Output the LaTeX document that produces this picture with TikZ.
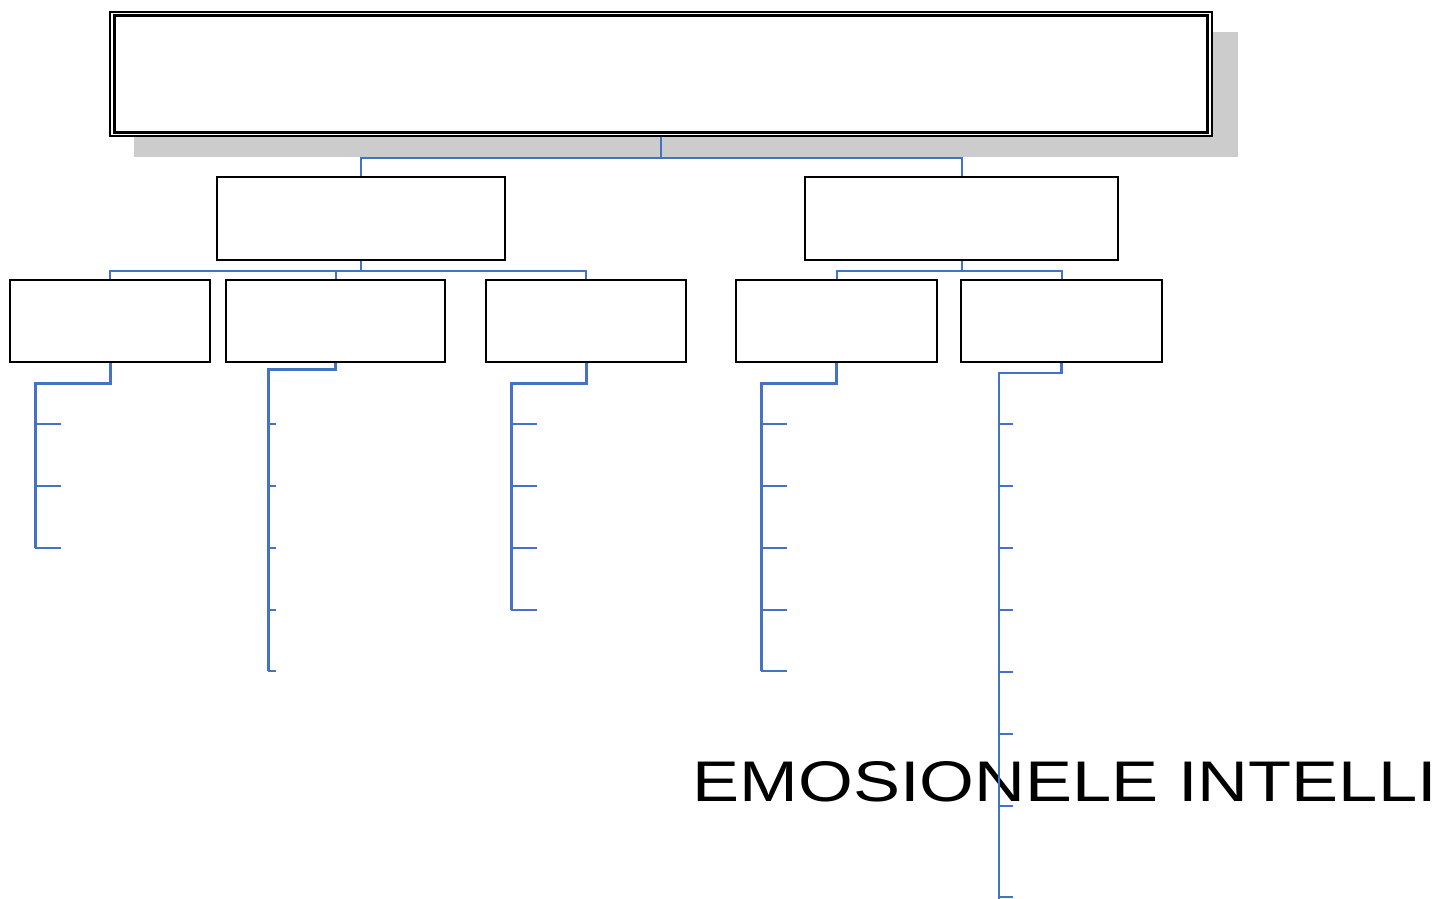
\documentclass[tikz,border=0pt]{standalone}
\usepackage{fontspec}
\setmainfont{Liberation Sans}
\begin{document}
\begin{tikzpicture}[x=1pt,y=-1pt,
  box/.style={draw=black,line width=1.8pt,fill=white,rectangle,inner sep=0pt},
  link/.style={draw=linkblue,line width=2pt},
  leaf/.style={draw=linkblue,line width=3pt},
  tick/.style={draw=linkblue,line width=2.4pt}]
\definecolor{linkblue}{HTML}{4472C4}
\definecolor{shadowgray}{HTML}{CCCCCC}
\useasboundingbox (0,0) rectangle (1442,898);
\clip (0,0) rectangle (1442,898);

% shadow behind the title box
\fill[shadowgray] (134,32) rectangle (1238,157);

% title box with a double border
\node[box,line width=1.6pt,minimum width=1102pt,minimum height=124pt] (top) at (661,74) {};
\draw[line width=2.6pt] ([shift={(5.5,4.5)}]top.north west) rectangle ([shift={(-5.5,-4.5)}]top.south east);

% second level
\node[box,minimum width=288pt,minimum height=83pt] (l2a) at (361,218.5) {};
\node[box,minimum width=313pt,minimum height=83pt] (l2b) at (961.5,218.5) {};

% third level
\node[box,minimum width=200pt,minimum height=82pt] (l3a) at (110,321) {};
\node[box,minimum width=219pt,minimum height=82pt] (l3b) at (335.5,321) {};
\node[box,minimum width=200pt,minimum height=82pt] (l3c) at (586,321) {};
\node[box,minimum width=201pt,minimum height=82pt] (l3d) at (836.5,321) {};
\node[box,minimum width=201pt,minimum height=82pt] (l3e) at (1061.5,321) {};

% heading text
\node[anchor=base west,inner sep=0pt,font=\fontsize{57.3}{60}\selectfont] (title) at (692.5,801)
  {\scalebox{1.23}[1]{EMOSIONELE INTELLI}};

% connectors between levels
\draw[link] (top.south) -- ++(0,21) coordinate (busA) -| (l2a.north);
\draw[link] (busA) -| (l2b.north);
\draw[link] (l2a.south) -- ++(0,10) coordinate (busB) -| (l3a.north);
\draw[link] (busB) -| (l3b.north);
\draw[link] (busB) -| (l3c.north);
\draw[link] (l2b.south) -- ++(0,10) coordinate (busC) -| (l3d.north);
\draw[link] (busC) -| (l3e.north);

% list brackets under the third level
\coordinate (ea) at (35,548);
\draw[leaf] (l3a.south) |- (35,383) -- (ea);
\foreach \y in {424,486,548} \draw[tick] (35,\y) -- (61,\y);

\coordinate (eb) at (268,671);
\draw[leaf] (l3b.south) |- (268,369) -- (eb);
\foreach \y in {424,486,548,610,671} \draw[tick] (268,\y) -- (276,\y);

\coordinate (ec) at (511,610);
\draw[leaf] (l3c.south) |- (511,383) -- (ec);
\foreach \y in {424,486,548,610} \draw[tick] (511,\y) -- (537,\y);

\coordinate (ed) at (761,671);
\draw[leaf] (l3d.south) |- (761,383) -- (ed);
\foreach \y in {424,486,548,610,671} \draw[tick] (761,\y) -- (787,\y);

\coordinate (ee) at (999,900);
\draw[leaf,line width=2.4pt] (l3e.south) |- (999,373) -- (ee);
\foreach \y in {424,486,548,610,672,734,806,897} \draw[tick,line width=2pt] (999,\y) -- (1013,\y);
\end{tikzpicture}
\end{document}
